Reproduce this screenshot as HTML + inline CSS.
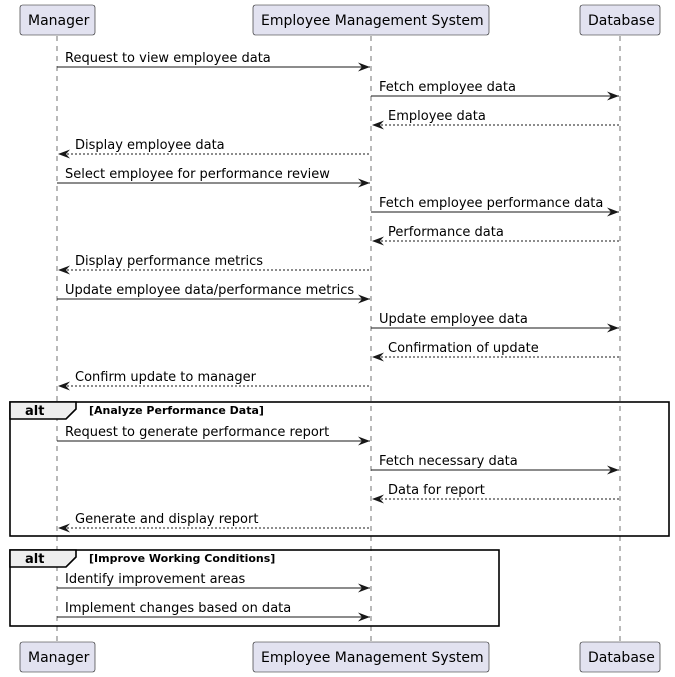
<!DOCTYPE html>
<html><head><meta charset="utf-8"><style>
html,body{margin:0;padding:0;background:#fff}
svg{display:block}
text{font-family:"DejaVu Sans","Liberation Sans",sans-serif;font-size:13px;fill:#000}
.pt{font-size:14px}
.p{fill:#E2E2F0;stroke:#181818;stroke-width:0.6}
.l{stroke:#181818;stroke-width:0.6;stroke-dasharray:5,5}
.a{stroke:#181818;stroke-width:1}
.d{stroke:#181818;stroke-width:1;stroke-dasharray:2,2}
.f{fill:none;stroke:#000;stroke-width:1.6}
.b{font-weight:bold;font-size:11px}
</style></head><body>
<svg width="675" height="677" viewBox="0 0 675 677" xmlns="http://www.w3.org/2000/svg">
<defs>
<polygon id="ar" points="0,0 -12,-4.5 -8,0 -12,4.5" fill="#181818"/>
<polygon id="al" points="0,0 12,-4.5 8,0 12,4.5" fill="#181818"/>
</defs>
<line class="l" x1="57" y1="36" x2="57" y2="642"/>
<line class="l" x1="371" y1="36" x2="371" y2="642"/>
<line class="l" x1="620" y1="36" x2="620" y2="642"/>
<rect class="f" x="10" y="402" width="659" height="134"/>
<polygon points="10,402 76,402 76,409 66,419 10,419" fill="#EEEEEE" stroke="#000" stroke-width="1.6"/>
<text x="25" y="415" style="font-weight:bold">alt</text>
<text class="b" x="89" y="414">[Analyze Performance Data]</text>
<rect class="f" x="10" y="550" width="489" height="76"/>
<polygon points="10,550 76,550 76,557 66,567 10,567" fill="#EEEEEE" stroke="#000" stroke-width="1.6"/>
<text x="25" y="563" style="font-weight:bold">alt</text>
<text class="b" x="89" y="562">[Improve Working Conditions]</text>
<rect class="p" x="20" y="5" width="75" height="30" rx="2.5"/>
<text class="pt" x="28" y="25">Manager</text>
<rect class="p" x="253" y="5" width="236" height="30" rx="2.5"/>
<text class="pt" x="261" y="25">Employee Management System</text>
<rect class="p" x="580" y="5" width="80" height="30" rx="2.5"/>
<text class="pt" x="588" y="25">Database</text>
<rect class="p" x="20" y="642" width="75" height="30" rx="2.5"/>
<text class="pt" x="28" y="662">Manager</text>
<rect class="p" x="253" y="642" width="236" height="30" rx="2.5"/>
<text class="pt" x="261" y="662">Employee Management System</text>
<rect class="p" x="580" y="642" width="80" height="30" rx="2.5"/>
<text class="pt" x="588" y="662">Database</text>
<g>
<line class="a" x1="57" y1="67" x2="370" y2="67"/><use href="#ar" x="370" y="67"/><text x="65" y="62">Request to view employee data</text>
<line class="a" x1="371" y1="96" x2="619" y2="96"/><use href="#ar" x="619" y="96"/><text x="379" y="91">Fetch employee data</text>
<line class="d" x1="373" y1="125" x2="620" y2="125"/><use href="#al" x="372" y="125"/><text x="388" y="120">Employee data</text>
<line class="d" x1="59" y1="154" x2="371" y2="154"/><use href="#al" x="58" y="154"/><text x="75" y="149">Display employee data</text>
<line class="a" x1="57" y1="183" x2="370" y2="183"/><use href="#ar" x="370" y="183"/><text x="65" y="178">Select employee for performance review</text>
<line class="a" x1="371" y1="212" x2="619" y2="212"/><use href="#ar" x="619" y="212"/><text x="379" y="207">Fetch employee performance data</text>
<line class="d" x1="373" y1="241" x2="620" y2="241"/><use href="#al" x="372" y="241"/><text x="388" y="236">Performance data</text>
<line class="d" x1="59" y1="270" x2="371" y2="270"/><use href="#al" x="58" y="270"/><text x="75" y="265">Display performance metrics</text>
<line class="a" x1="57" y1="299" x2="370" y2="299"/><use href="#ar" x="370" y="299"/><text x="65" y="294">Update employee data/performance metrics</text>
<line class="a" x1="371" y1="328" x2="619" y2="328"/><use href="#ar" x="619" y="328"/><text x="379" y="323">Update employee data</text>
<line class="d" x1="373" y1="357" x2="620" y2="357"/><use href="#al" x="372" y="357"/><text x="388" y="352">Confirmation of update</text>
<line class="d" x1="59" y1="386" x2="371" y2="386"/><use href="#al" x="58" y="386"/><text x="75" y="381">Confirm update to manager</text>
<line class="a" x1="57" y1="441" x2="370" y2="441"/><use href="#ar" x="370" y="441"/><text x="65" y="436">Request to generate performance report</text>
<line class="a" x1="371" y1="470" x2="619" y2="470"/><use href="#ar" x="619" y="470"/><text x="379" y="465">Fetch necessary data</text>
<line class="d" x1="373" y1="499" x2="620" y2="499"/><use href="#al" x="372" y="499"/><text x="388" y="494">Data for report</text>
<line class="d" x1="59" y1="528" x2="371" y2="528"/><use href="#al" x="58" y="528"/><text x="75" y="523">Generate and display report</text>
<line class="a" x1="57" y1="588" x2="370" y2="588"/><use href="#ar" x="370" y="588"/><text x="65" y="583">Identify improvement areas</text>
<line class="a" x1="57" y1="617" x2="370" y2="617"/><use href="#ar" x="370" y="617"/><text x="65" y="612">Implement changes based on data</text>
</g>
</svg>
</body></html>
